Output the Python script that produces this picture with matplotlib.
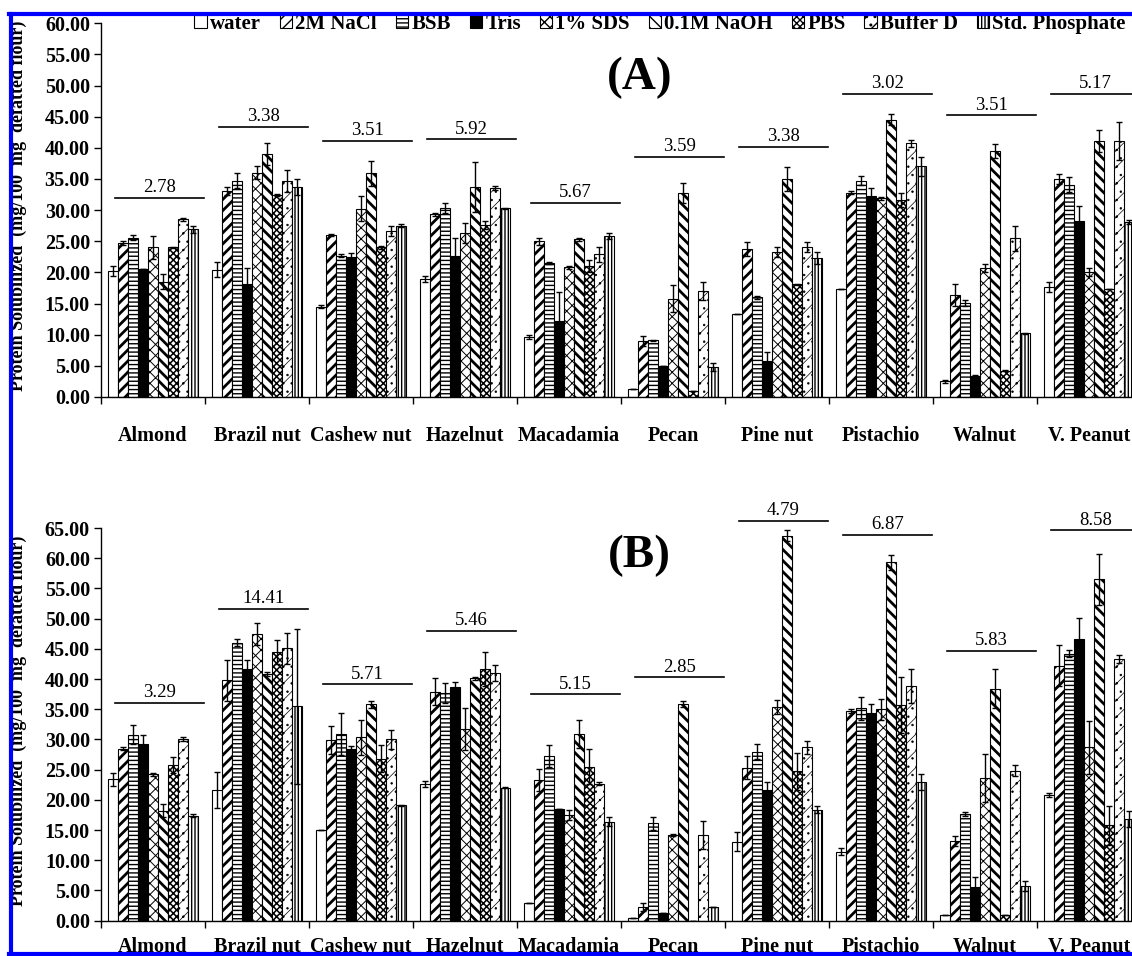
import numpy as np
import matplotlib
matplotlib.use('AGG')
import matplotlib.pyplot as plt
from matplotlib.patches import Rectangle, Patch
from matplotlib.lines import Line2D
from matplotlib.ticker import FormatStrFormatter

plt.rcParams['font.family'] = ['Liberation Serif', 'DejaVu Serif']

nuts = ["Almond", "Brazil nut", "Cashew nut", "Hazelnut", "Macadamia",
        "Pecan", "Pine nut", "Pistachio", "Walnut", "V. Peanut"]
solvents = ["water", "2M NaCl", "BSB", "Tris", "1% SDS", "0.1M NaOH",
            "PBS", "Buffer D", "Std. Phosphate"]

# panel A, one row per nut, columns follow `solvents`
a_mean = [
    [20.3, 24.7, 25.6, 20.5, 24.0, 18.5, 24.0, 28.5, 26.9],
    [20.4, 33.1, 34.7, 18.1, 36.0, 39.0, 32.4, 34.7, 33.7],
    [14.5, 26.0, 22.7, 22.5, 30.2, 35.9, 24.0, 26.6, 27.5],
    [19.0, 29.3, 30.4, 22.6, 26.3, 33.7, 27.6, 33.5, 30.3],
    [9.6, 25.0, 21.5, 12.2, 20.8, 25.3, 21.0, 22.9, 25.8],
    [1.3, 9.0, 9.1, 4.9, 15.8, 32.8, 0.9, 17.0, 4.8],
    [13.3, 23.8, 16.0, 5.8, 23.3, 35.0, 18.1, 24.0, 22.3],
    [17.3, 32.8, 34.7, 32.3, 31.9, 44.5, 31.6, 40.7, 37.0],
    [2.5, 16.4, 15.1, 3.3, 20.7, 39.5, 4.2, 25.5, 10.2],
    [17.6, 35.0, 34.1, 28.3, 20.1, 41.1, 17.3, 41.1, 28.1],
]
a_err = [
    [0.8, 0.3, 0.4, 0.0, 1.9, 1.2, 0.1, 0.2, 0.6],
    [1.2, 0.6, 1.2, 2.6, 1.0, 1.7, 0.2, 1.8, 1.3],
    [0.2, 0.2, 0.2, 0.6, 2.0, 2.0, 0.3, 0.8, 0.2],
    [0.5, 0.2, 0.8, 3.0, 1.6, 4.0, 0.6, 0.3, 0.1],
    [0.3, 0.6, 0.1, 4.7, 0.3, 0.3, 1.0, 1.2, 0.5],
    [0.0, 0.8, 0.1, 0.0, 2.2, 1.6, 0.0, 1.4, 0.6],
    [0.0, 1.1, 0.2, 1.5, 0.8, 1.9, 0.1, 0.8, 0.9],
    [0.0, 0.2, 0.7, 1.2, 0.2, 0.9, 1.1, 0.5, 1.6],
    [0.2, 1.8, 0.5, 0.2, 0.6, 1.1, 0.1, 2.0, 0.1],
    [0.8, 0.8, 1.2, 2.3, 0.6, 1.8, 0.0, 3.0, 0.3],
]
a_lsd = [2.78, 3.38, 3.51, 5.92, 5.67, 3.59, 3.38, 3.02, 3.51, 5.17]
a_lsd_y = [32.0, 43.4, 41.1, 41.4, 31.2, 38.6, 40.2, 48.7, 45.2, 48.7]

# panel B
b_mean = [
    [23.4, 28.5, 30.8, 29.3, 24.2, 18.2, 25.8, 30.1, 17.4],
    [21.6, 39.8, 46.0, 41.6, 47.4, 40.8, 44.5, 45.1, 35.5],
    [15.0, 29.9, 30.9, 28.5, 30.4, 35.8, 26.8, 30.0, 19.1],
    [22.7, 37.9, 37.7, 38.7, 31.7, 40.1, 41.7, 41.0, 22.0],
    [2.9, 23.3, 27.2, 18.5, 17.5, 30.9, 25.5, 22.7, 16.4],
    [0.4, 2.3, 16.1, 1.2, 14.2, 35.9, 0.0, 14.2, 2.3],
    [13.1, 25.3, 28.0, 21.6, 35.4, 63.7, 24.7, 28.7, 18.4],
    [11.4, 34.7, 35.2, 34.3, 35.0, 59.3, 35.7, 38.9, 23.0],
    [0.9, 13.2, 17.7, 5.6, 23.6, 38.4, 0.9, 24.8, 5.7],
    [20.8, 42.2, 44.2, 46.6, 28.7, 56.5, 15.8, 43.3, 16.8],
]
b_err = [
    [1.1, 0.3, 1.6, 1.4, 0.2, 1.1, 1.3, 0.3, 0.3],
    [3.0, 3.4, 0.6, 1.6, 1.8, 0.3, 2.0, 2.6, 12.8],
    [0.0, 2.3, 3.4, 0.4, 2.9, 0.6, 2.2, 1.5, 0.1],
    [0.5, 2.2, 1.7, 0.8, 3.5, 0.3, 2.8, 1.3, 0.1],
    [0.0, 1.8, 1.8, 0.0, 0.8, 2.3, 2.9, 0.3, 0.8],
    [0.0, 0.7, 1.1, 0.0, 0.1, 0.5, 0.0, 2.3, 0.0],
    [1.5, 1.9, 1.2, 1.4, 1.2, 0.9, 3.0, 1.1, 0.6],
    [0.6, 0.4, 1.9, 1.6, 1.7, 1.2, 4.7, 2.8, 1.3],
    [0.0, 0.8, 0.3, 1.7, 4.0, 3.2, 0.0, 0.9, 0.8],
    [0.4, 3.4, 0.6, 3.5, 4.4, 4.2, 3.2, 0.7, 1.3],
]
b_lsd = [3.29, 14.41, 5.71, 5.46, 5.15, 2.85, 4.79, 6.87, 5.83, 8.58]
b_lsd_y = [36.1, 51.6, 39.1, 48.0, 37.5, 40.3, 66.2, 63.9, 44.7, 64.6]

# fill, hatch, hatch linewidth for each solvent
styles = [
    ('white', '', 1.0),
    ('white', '///', 2.0),
    ('white', '----', 1.0),
    ('black', '', 1.0),
    ('white', 'xxx', 0.7),
    ('white', '\\\\\\', 2.0),
    ('white', 'xxxxx', 1.1),
    ('white', '//..', 0.5),
    ('white', '|||||', 1.0),
]

W, H = 1132, 956
fig = plt.figure(figsize=(W / 100, H / 100), dpi=100)
ylabel = 'Protein Solubilized  (mg/100  mg  defatted flour)'
bw = 0.097
x = np.arange(len(nuts))


def panel(ax, mean, err, lsd, lsd_y, ymax, tag, labpad):
    mean = np.array(mean)
    err = np.array(err)
    for j, (fc, hatch, hlw) in enumerate(styles):
        with plt.rc_context({'hatch.linewidth': hlw}):
            bars = ax.bar(x + (j - 4) * bw, mean[:, j], bw, color=fc,
                          edgecolor='black', linewidth=0.8, hatch=hatch,
                          yerr=err[:, j], capsize=2.5,
                          error_kw=dict(elinewidth=1.0, capthick=1.0,
                                        ecolor='black'))
            for b in bars:
                if hasattr(b, 'set_hatch_linewidth'):
                    b.set_hatch_linewidth(hlw)
    for i in range(len(nuts)):
        ax.plot([i - 0.37, i + 0.49], [lsd_y[i]] * 2, color='black', lw=1.2,
                clip_on=False)
        ax.text(i + 0.06, lsd_y[i] + ymax * 0.004, '%.2f' % lsd[i],
                ha='center', va='bottom', fontsize=13.5)
    ax.set_xlim(-0.5, len(nuts) - 0.5)
    ax.set_ylim(0, ymax)
    ax.set_yticks(np.arange(0, ymax + 0.1, 5))
    ax.yaxis.set_major_formatter(FormatStrFormatter('%.2f'))
    ax.set_xticks(x)
    ax.set_xticklabels(nuts)
    ax.set_xticks(np.arange(-0.5, len(nuts)), minor=True)
    ax.tick_params(axis='x', which='major', length=0, pad=labpad,
                   labelsize=14.5)
    ax.tick_params(axis='x', which='minor', length=5, width=1,
                   direction='out')
    ax.tick_params(axis='y', length=5, width=1, direction='out',
                   labelsize=14.5, pad=3)
    for lab in ax.get_xticklabels() + ax.get_yticklabels():
        lab.set_fontweight('bold')
    for s in ['top', 'right']:
        ax.spines[s].set_visible(False)
    for s in ['left', 'bottom']:
        ax.spines[s].set_linewidth(1.0)
    ax.text(0.518, tag[1], tag[0], transform=ax.transAxes, ha='center',
            va='center', fontsize=34, fontweight='bold')


left = 101 / W
width = (1141 - 101) / W
ax_a = fig.add_axes([left, (H - 397) / H, width, (397 - 23.2) / H])
ax_b = fig.add_axes([left, (H - 920.7) / H, width, (920.7 - 528) / H])
panel(ax_a, a_mean, a_err, a_lsd, a_lsd_y, 60, ('(A)', 0.855), 21)
panel(ax_b, b_mean, b_err, b_lsd, b_lsd_y, 65, ('(B)', 0.93), 12)

fig.text(18 / W, 1 - 206 / H, ylabel, rotation=90, ha='center', va='center',
         fontsize=13, fontweight='bold')
fig.text(18 / W, 1 - 721 / H, ylabel, rotation=90, ha='center', va='center',
         fontsize=13, fontweight='bold')

handles = []
for fc, hatch, hlw in styles:
    handles.append(Patch(facecolor=fc, edgecolor='black', hatch=hatch,
                         linewidth=0.8))
fig.legend(handles, solvents, loc='center', bbox_to_anchor=(660 / W, 1 - 24 / H),
           ncol=9, frameon=False, handlelength=0.6, handleheight=0.6,
           handletextpad=0.15, columnspacing=0.9, borderpad=0,
           prop=dict(size=15, weight='bold'))

# crop masks and the blue frame of the scanned figure
fig.add_artist(Rectangle((0, 1 - 12 / H), 1, 12 / H, transform=fig.transFigure,
                         facecolor='white', edgecolor='none', zorder=20))
fig.add_artist(Rectangle((0, 0), 9 / W, 1, transform=fig.transFigure,
                         facecolor='white', edgecolor='none', zorder=20))
blue = '#0000ff'
fig.add_artist(Line2D([11 / W, 11 / W], [2 / H, 1 - 14 / H],
                      transform=fig.transFigure, color=blue, lw=3, zorder=21))
fig.add_artist(Line2D([9 / W, 1], [1 - 14 / H] * 2,
                      transform=fig.transFigure, color=blue, lw=3, zorder=21))
fig.add_artist(Line2D([9 / W, 1], [2 / H] * 2,
                      transform=fig.transFigure, color=blue, lw=3, zorder=21))

fig.savefig('out.png', dpi=100)
